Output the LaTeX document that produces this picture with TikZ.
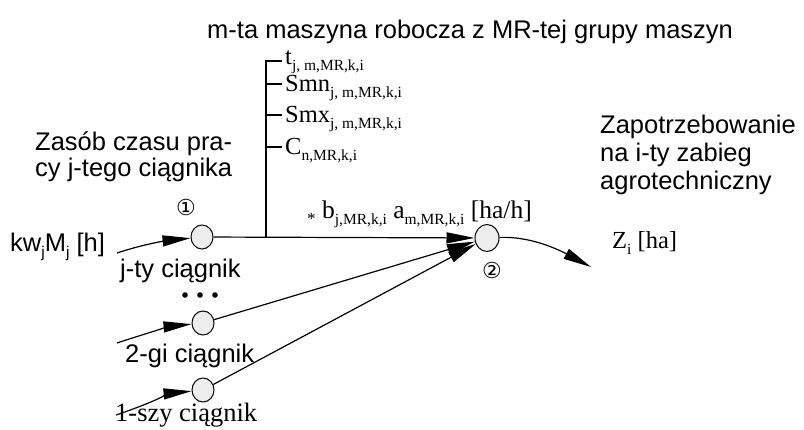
\documentclass[tikz,border=0pt]{standalone}
\usepackage{fontspec}
\setmainfont{Liberation Serif}
\newfontfamily\sansf{Liberation Sans}
\newfontfamily\symf{DejaVu Sans}
\usetikzlibrary{arrows.meta,shapes.geometric}
% lowered small index text, used for the roman subscripts
\newcommand\lowsub[1]{\raisebox{-5.5pt}{\fontsize{15.5}{15.5}\selectfont #1}}
\begin{document}
\begin{tikzpicture}[x=1pt,y=-1pt,
  txt/.style={anchor=base west,inner sep=0pt,font=\fontsize{24.5}{30}\selectfont},
  stxt/.style={anchor=base west,inner sep=0pt,font=\sansf\fontsize{25.5}{30}\selectfont},
  tract/.style={ellipse,draw,line width=1pt,fill=black!7,inner sep=0pt,
                minimum width=22pt,minimum height=24pt},
  wire/.style={line width=1.2pt},
  arr/.style={wire,-{Triangle[length=28pt,width=11pt]}},
  numlbl/.style={inner sep=0pt,font=\symf\fontsize{22}{22}\selectfont}]
\useasboundingbox (0,0) rectangle (804,430);

% heading of the machine branch
\node[stxt] (title) at (207,39) {m-ta maszyna robocza z MR-tej grupy maszyn};

% parameters of the working machine
\node[txt] (pt)   at (285,65)  {t\lowsub{j, m,MR,k,i}};
\node[txt] (psmn) at (285,92)  {Smn\lowsub{j, m,MR,k,i}};
\node[txt] (psmx) at (285,123) {Smx\lowsub{j, m,MR,k,i}};
\node[txt] (pc)   at (285,155) {C\lowsub{n,MR,k,i}};

% tractor resource description
\node[stxt] (res1) at (35,151) {Zasób czasu pra-};
\node[stxt] (res2) at (35,177) {cy j-tego ciągnika};

% demand description
\node[stxt] (dem1) at (600,134) {Zapotrzebowanie};
\node[stxt] (dem2) at (600,162) {na i-ty zabieg};
\node[stxt] (dem3) at (600,190) {agrotechniczny};

% tractor nodes and the demand node
\node[tract] (c1) at (202,237) {};
\node[tract] (c2) at (203,323) {};
\node[tract] (c3) at (203,390) {};
\node[tract,minimum width=24pt,minimum height=27pt] (zz) at (487,238) {};

\node[numlbl] (n1) at (186,207) {①};
\node[numlbl] (n2) at (492,270) {②};

% tractor labels
\node[stxt] (kw) at (10,252) {kw\lowsub{j}M\lowsub{j} [h]};
\node[stxt] (t1) at (120,278) {j-ty ciągnik};
\node[stxt] (t2) at (125,363) {2-gi ciągnik};
\node[txt,font=\fontsize{26.5}{30}\selectfont] (t3) at (115,422) {1-szy ciągnik};
\foreach \dx [count=\k] in {185,200,215}
  \fill (\dx,295) circle[radius=2.8pt] coordinate (dot\k);

% rate label on the main branch
\node[txt,font=\fontsize{25.5}{30}\selectfont] (rate) at (307,219)
  {{\fontsize{17}{17}\selectfont\raisebox{-6pt}{*}} b\lowsub{j,MR,k,i} a\lowsub{m,MR,k,i} [ha/h]};

% result label
\node[txt] (res) at (612,249) {Z\lowsub{i} [ha]};

% free ends of the connectors
\coordinate (in1) at (117,253);
\coordinate (in2) at (117,343);
\coordinate (in3) at (116,415);
\coordinate (outp) at (591,267);
\coordinate (jn) at (266,237);
\coordinate (top) at (266,61);
\coordinate (topr) at (282,61);
\coordinate (k2) at (266,84);
\coordinate (k2r) at (282,84);
\coordinate (k3) at (266,115);
\coordinate (k3r) at (282,115);
\coordinate (k4) at (266,147);
\coordinate (k4r) at (282,147);

% parameter spine with its ticks
\draw[wire,line width=1.4pt] (topr) -- (top) -- (jn);
\draw[wire] (k2) -- (k2r);
\draw[wire] (k3) -- (k3r);
\draw[wire] (k4) -- (k4r);

% inputs to the tractors
\draw[arr] (in1) .. controls +(30,-10) and +(-30,3) .. (c1);
\draw[arr] (in2) .. controls +(30,-10) and +(-30,3) .. (c2);
\draw[arr] (in3) .. controls +(30,-10) and +(-30,3) .. (c3);

% flows into the demand node
\draw[arr] (c1) -- (zz);
\draw[arr] (c2) -- (zz);
\draw[arr] (c3) -- (zz);

% output
\draw[arr] (zz) .. controls +(45,-2) and +(-30,-16) .. (outp);
\end{tikzpicture}
\end{document}
